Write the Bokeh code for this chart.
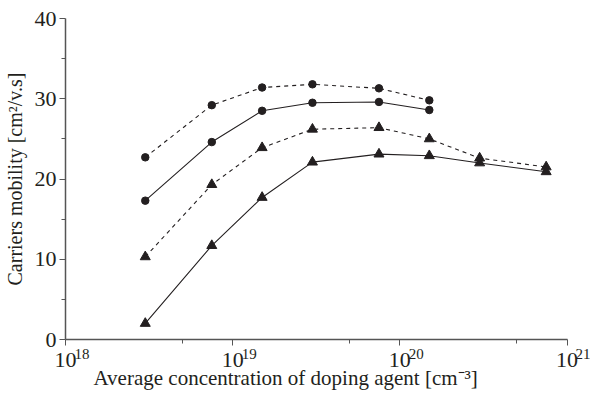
from bokeh.plotting import figure
from bokeh.models import FixedTicker, Range1d, LogAxis, Title
from bokeh.embed import file_html
from bokeh.resources import INLINE

# data
x_circ = [3e18, 7.5e18, 1.5e19, 3e19, 7.5e19, 1.5e20]
y_circ_dash = [22.7, 29.2, 31.4, 31.8, 31.3, 29.8]
y_circ_solid = [17.3, 24.6, 28.5, 29.5, 29.6, 28.6]
x_tri = [3e18, 7.5e18, 1.5e19, 3e19, 7.5e19, 1.5e20, 3e20, 7.5e20]
y_tri_dash = [10.3, 19.3, 23.9, 26.2, 26.4, 25.0, 22.6, 21.5]
y_tri_solid = [2.0, 11.7, 17.7, 22.1, 23.1, 22.9, 22.0, 20.9]

x_major = [1e18, 1e19, 1e20, 1e21]
x_minor = [5e18, 5e19, 5e20]
x_base = ["10", "10", "10", "10"]
x_exp = ["18", "19", "20", "21"]
y_major = [0, 10, 20, 30, 40]
y_minor = [5, 15, 25, 35]

ink = "#231f20"
axc = "#555555"
font = "Liberation Serif"

decade_px = 167.5
pad = 10 ** (23.5 / decade_px)    # room right of 10^21 for its exponent
shift = 10 ** (16.5 / decade_px)  # exponent offset right of the tick

p = figure(width=590, height=397, x_axis_type="log", output_backend="svg",
           toolbar_location=None, x_range=Range1d(x_major[0], x_major[-1] * pad),
           y_range=Range1d(y_major[0], y_major[-1]),
           min_border_left=64, min_border_right=0, min_border_top=18, min_border_bottom=58)
p.outline_line_color = None
p.xgrid.visible = False
p.ygrid.visible = False

p.line(x_circ, y_circ_dash, line_color=ink, line_width=1.1, line_dash="4 4")
p.line(x_circ, y_circ_solid, line_color=ink, line_width=1.1)
p.line(x_tri, y_tri_dash, line_color=ink, line_width=1.1, line_dash="4 4")
p.line(x_tri, y_tri_solid, line_color=ink, line_width=1.1)
p.scatter(x_circ, y_circ_dash, marker="circle", size=7.5, fill_color=ink, line_color=ink)
p.scatter(x_circ, y_circ_solid, marker="circle", size=7.5, fill_color=ink, line_color=ink)
p.scatter(x_tri, y_tri_dash, marker="triangle", size=10, fill_color=ink, line_color=ink)
p.scatter(x_tri, y_tri_solid, marker="triangle", size=10, fill_color=ink, line_color=ink)

p.extra_x_ranges = {"exp": Range1d(x_major[0] / shift, x_major[-1] * pad / shift)}

xa = p.xaxis[0]
xa.ticker = FixedTicker(ticks=x_major, minor_ticks=x_minor)
xa.major_label_overrides = {v: b for v, b in zip(x_major, x_base)}
xa.bounds = (x_major[0], x_major[-1])

ya = p.yaxis[0]
ya.ticker = FixedTicker(ticks=y_major, minor_ticks=y_minor)
ya.axis_label = "Carriers mobility [cm²/v.s]"

for ax in (xa, ya):
    ax.axis_line_color = axc
    ax.axis_line_width = 1.5
    ax.major_tick_line_color = axc
    ax.minor_tick_line_color = axc
    ax.major_tick_in = 0
    ax.major_tick_out = 6
    ax.minor_tick_in = 0
    ax.minor_tick_out = 4
    ax.major_label_text_font = font
    ax.major_label_text_font_size = "22px"
    ax.major_label_text_color = ink
    ax.axis_label_text_font = font
    ax.axis_label_text_font_size = "20px"
    ax.axis_label_text_font_style = "normal"
    ax.axis_label_text_color = ink
xa.major_label_standoff = 7
ya.major_label_standoff = 3
ya.axis_label_standoff = 6

xe = LogAxis(x_range_name="exp", ticker=FixedTicker(ticks=x_major, minor_ticks=[]),
             major_label_overrides={v: e for v, e in zip(x_major, x_exp)},
             axis_line_color=None, major_tick_line_color=None, minor_tick_line_color=None,
             major_tick_in=0, major_tick_out=0, minor_tick_in=0, minor_tick_out=0,
             major_label_standoff=-21, major_label_text_font=font,
             major_label_text_font_size="15px", major_label_text_color=ink)
p.add_layout(xe, "below")

p.add_layout(Title(text="Average concentration of doping agent [cm⁻³]", align="left", offset=28,
                   standoff=-11, text_font=font, text_font_size="21px", text_font_style="normal",
                   text_color=ink), "below")

open("out.html", "w").write(file_html(p, INLINE))
